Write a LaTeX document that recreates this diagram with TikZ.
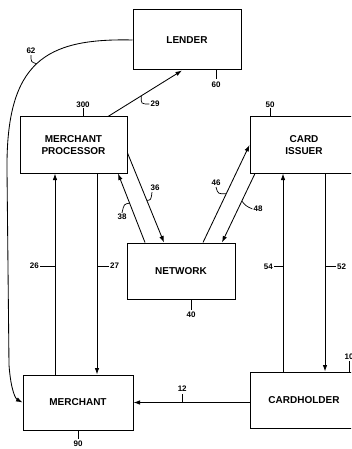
\documentclass[tikz,border=0pt]{standalone}
\usepackage{fontspec}
\setmainfont{Liberation Sans}
\usetikzlibrary{arrows.meta, positioning}

\begin{document}
\begin{tikzpicture}[
            x = 1pt,
            y = -1pt,
            block/.style = {
                rectangle,
                draw,
                line width = 1pt,
                align = center,
                font = \fontsize{10}{12}\selectfont\bfseries,
                inner sep = 0pt,
                minimum width = 108pt,
                minimum height = 56pt},
            arrow/.style = {
                draw,
                line width = 0.85pt,
                -{Latex[length=6.5pt,width=4.5pt]}},
            lead/.style = {
                draw,
                line width = 0.7pt},
            tag/.style = {
                font = \fontsize{8}{9}\selectfont\bfseries,
                inner sep = 0pt}]
        \useasboundingbox (0,0) rectangle (351,449);
        \clip (0,0) rectangle (351,449);

        % Place nodes
        \node [block, minimum height=60pt] (lender) at (187,40) {LENDER};
        \node [block, minimum width=107pt] (proc) at (73.5,145) {MERCHANT\\PROCESSOR};
        \node [block] (issuer) at (304,145) {CARD\\ISSUER};
        \node [block] (net) at (181,271) {NETWORK};
        \node [block, minimum width=110pt, minimum height=55pt] (merch) at (78,402.5) {MERCHANT};
        \node [block] (holder) at (304,400) {CARDHOLDER};

        % Reference ticks on the blocks
        \draw [lead] ([xshift=29pt]lender.south) -- ++(0,9) node [tag, below=2pt] (l60) {60};
        \draw [lead] ([xshift=9.5pt]proc.north) -- ++(0,-8) node [tag, above=1pt] (l300) {300};
        \draw [lead] ([xshift=-34pt]issuer.north) -- ++(0,-8) node [tag, above=1pt] (l50) {50};
        \draw [lead] ([xshift=10pt]net.south) -- ++(0,10) node [tag, below=2pt] (l40) {40};
        \draw [lead] (merch.south) -- ++(0,8) node [tag, below=2pt] (l90) {90};
        \draw [lead] ([xshift=45pt]holder.north) -- ++(0,-11) node [tag, above=1pt] (l10) {10};

        % Draw edges
        \path [arrow] (lender.west) .. controls (45,38) and (6,62) .. (7,170) coordinate [pos=0.5] (a62)
            -- (9,365) .. controls (11,392) and (16,399) .. (merch.west);
        \path [arrow] ([xshift=34.5pt]proc.north) -- coordinate [pos=0.45] (a29) ([xshift=-5pt]lender.south);
        \path [arrow] ([yshift=-8pt]proc.east) -- coordinate [pos=0.53] (a36) ([xshift=-17pt]net.north);
        \path [arrow] ([xshift=-36pt]net.north) -- coordinate [pos=0.57] (a38) ([xshift=44.5pt]proc.south);
        \path [arrow] ([xshift=22pt]net.north) -- coordinate [pos=0.5] (a46) (issuer.west);
        \path [arrow] ([xshift=-49pt]issuer.south) -- coordinate [pos=0.4] (a48) ([xshift=41pt]net.north);
        \path [arrow] ([xshift=-23pt]merch.north) -- coordinate [pos=0.54] (a26) ([xshift=-23pt]merch.north |- proc.south);
        \path [arrow] ([xshift=19pt]merch.north |- proc.south) -- coordinate [pos=0.46] (a27) ([xshift=19pt]merch.north);
        \path [arrow] ([xshift=-21pt]holder.north) -- coordinate [pos=0.53] (a54) ([xshift=-21pt]holder.north |- issuer.south);
        \path [arrow] ([xshift=21pt]holder.north |- issuer.south) -- coordinate [pos=0.47] (a52) ([xshift=21pt]holder.north);
        \path [arrow] (merch.east -| holder.west) -- coordinate [pos=0.58] (a12) (merch.east);

        % Labels on the edges
        \node [tag] (l62) at (31,51) {62};
        \node [tag] (l29) at (155,104) {29};
        \node [tag] (l36) at (155,188) {36};
        \node [tag] (l38) at (122,217) {38};
        \node [tag] (l46) at (216,183) {46};
        \node [tag] (l48) at (258,209) {48};
        \node [tag, left=16pt of a26] (l26) {26};
        \node [tag, right=13pt of a27] (l27) {27};
        \node [tag, left=10pt of a54] (l54) {54};
        \node [tag, right=12pt of a52] (l52) {52};
        \draw [lead] (a12) -- ++(0,-9) node [tag, above=2pt] (l12) {12};

        \draw [lead] ([yshift=-1pt]l62.south) .. controls (31,62) .. (a62);
        \draw [lead] (a29) .. controls (141,104) .. ([xshift=-1pt]l29.west);
        \draw [lead] (a36) .. controls (151,200) .. ([xshift=-3pt,yshift=-1pt]l36.south);
        \draw [lead] (a38) .. controls (124,204) .. ([yshift=1pt]l38.north);
        \draw [lead] ([yshift=-1pt]l46.south) .. controls (218,194) .. (a46);
        \draw [lead] (a48) .. controls (246,206) .. ([xshift=-1pt]l48.west);
        \draw [lead] ([xshift=1pt]l26.east) -- (a26);
        \draw [lead] (a27) -- ([xshift=-1pt]l27.west);
        \draw [lead] ([xshift=1pt]l54.east) -- (a54);
        \draw [lead] (a52) -- ([xshift=-1pt]l52.west);
    \end{tikzpicture}
\end{document}
